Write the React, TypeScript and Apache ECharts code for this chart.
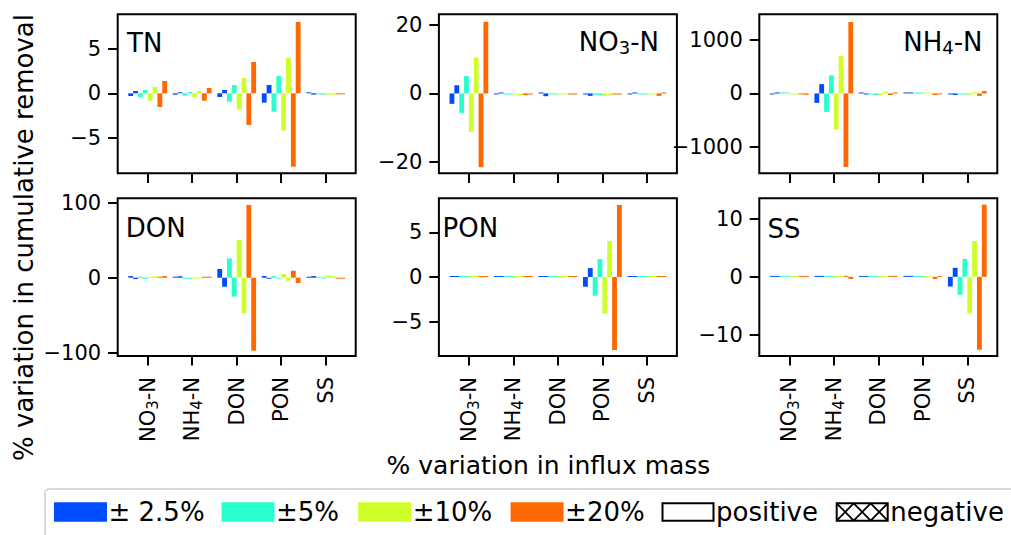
import React, { useEffect, useRef } from "react";
import * as echarts from "echarts";

// ---------- data ----------
const categories = ["NO₃-N", "NH₄-N", "DON", "PON", "SS"];
const levels = ["± 2.5%", "±5%", "±10%", "±20%"];
const levelColors = ["#004cff", "#29ffce", "#ceff29", "#ff6800"];

// [level][influx category]; "first" = left bar of each colour pair, "second" = right bar
const tnFirst = [
  [-0.3, -0.15, -0.41, -1.05, 0.05],
  [-0.41, -0.26, -0.94, -2.07, -0.1],
  [-0.83, -0.41, -1.84, -4.2, -0.15],
  [-1.54, -0.83, -3.57, -8.27, -0.1],
];
const tnSecond = [
  [0.26, 0.05, 0.38, 0.94, -0.15],
  [0.38, 0.15, 0.94, 1.95, -0.15],
  [0.71, 0.26, 1.73, 3.98, -0.15],
  [1.39, 0.6, 3.53, 8.05, -0.1],
];

const no3First = [
  [-3.05, -0.2, 0.1, -0.2, -0.2],
  [-5.7, -0.2, -0.3, -0.4, -0.3],
  [-11.3, -0.3, -0.3, -0.7, -0.3],
  [-21.6, -0.5, -0.3, -0.3, -0.7],
];
const no3Second = [
  [2.4, 0.2, -0.8, -0.7, 0.1],
  [5.1, -0.2, -0.3, -0.5, -0.3],
  [10.5, -0.6, -0.3, -0.6, -0.3],
  [21.0, -0.3, -0.3, -0.3, 0.3],
];

const nh4First = [
  [-5, -176, 5, 0, -5],
  [15, -345, -5, 0, -5],
  [-5, -675, -30, 0, -30],
  [-10, -1375, -30, -30, -45],
];
const nh4Second = [
  [20, 175, -5, 0, -30],
  [15, 337, -30, 0, -5],
  [-5, 700, 30, 0, 25],
  [-25, 1337, 5, -5, 45],
];

const donFirst = [
  [2.2, 0.5, 11.6, 2.2, 0.5],
  [0.9, -1.0, 25.8, 2.2, 0.9],
  [1.3, -0.8, 50.3, 4.9, 3.1],
  [0.3, 1.0, 97.0, 9.3, -0.5],
];
const donSecond = [
  [-1.8, 2.0, -12.0, -1.3, 2.2],
  [-1.8, -1.0, -25.3, -1.0, -0.9],
  [2.2, -0.8, -47.5, -4.0, 2.2],
  [2.2, 1.0, -97.3, -7.1, -0.9],
];

const ponFirst = [
  [0, 0, 0, -1.09, 0],
  [0, 0, 0, -2.1, 0],
  [0, 0, 0, -4.1, 0],
  [0, 0, 0, -8.2, 0],
];
const ponSecond = [
  [0, 0, 0, 1.0, 0],
  [0, 0, 0, 2.0, 0],
  [0, 0, 0, 4.05, 0],
  [0, 0, 0, 8.1, 0],
];

const ssFirst = [
  [0, 0, 0, 0, -1.67],
  [0, 0, 0, 0, -3.1],
  [0, 0, 0, 0, -6.35],
  [0, 0, 0, -0.35, -12.6],
];
const ssSecond = [
  [0, 0, 0, 0, 1.56],
  [0, 0, 0, 0, 3.1],
  [0, 0, 0, 0, 6.2],
  [0, -0.35, 0, 0, 12.5],
];

const tnTicks = [-5, 0, 5];
const no3Ticks = [-20, 0, 20];
const nh4Ticks = [-1000, 0, 1000];
const donTicks = [-100, 0, 100];
const ponTicks = [-5, 0, 5];
const ssTicks = [-10, 0, 10];

// ---------- layout ----------
const FONT = "DejaVu Sans";
const TICK_FS = 21;
const colLeft = [117.7, 438.9, 759.3];
const rowTop = [14.3, 198.3];
const rowH = [159, 157.7];
const frameW = 238;
const tickInset = 30;
const catW = 44.5;
const gridInset = tickInset - catW / 2;

type Panel = {
  title: string;
  first: number[][];
  second: number[][];
  ticks: number[];
  min: number;
  max: number;
  col: number;
  row: number;
  lx: number;
  ly: number;
  align: "left" | "right";
};

const panels: Panel[] = [
  { title: "TN", first: tnFirst, second: tnSecond, ticks: tnTicks, min: -9.02, max: 8.91, col: 0, row: 0, lx: 127, ly: 43, align: "left" },
  { title: "NO₃-N", first: no3First, second: no3Second, ticks: no3Ticks, min: -23.4, max: 23.2, col: 1, row: 0, lx: 659, ly: 41.7, align: "right" },
  { title: "NH₄-N", first: nh4First, second: nh4Second, ticks: nh4Ticks, min: -1494, max: 1481, col: 2, row: 0, lx: 982.5, ly: 41.7, align: "right" },
  { title: "DON", first: donFirst, second: donSecond, ticks: donTicks, min: -104.4, max: 105.9, col: 0, row: 1, lx: 125.8, ly: 228, align: "left" },
  { title: "PON", first: ponFirst, second: ponSecond, ticks: ponTicks, min: -8.87, max: 8.84, col: 1, row: 1, lx: 442.5, ly: 228.3, align: "left" },
  { title: "SS", first: ssFirst, second: ssSecond, ticks: ssTicks, min: -13.7, max: 13.6, col: 2, row: 1, lx: 767.6, ly: 229, align: "left" },
];

const fmt = (v: number) => (v < 0 ? "\u2212" + Math.abs(v) : String(v));

const SUBS: Record<string, string> = { "₃": "3", "₄": "4" };
// turn "NO₃-N" into rich text with a real subscript
function toRich(s: string) {
  let out = "";
  let buf = "";
  for (const ch of s) {
    if (SUBS[ch]) {
      if (buf) out += "{a|" + buf + "}";
      buf = "";
      out += "{b|" + SUBS[ch] + "}";
    } else buf += ch;
  }
  if (buf) out += "{a|" + buf + "}";
  return out;
}

function richStyles(size: number) {
  const sub = Math.round(size * 0.7);
  const lh = size + 4;
  const subLh = lh - 2 * Math.round(size * 0.39);
  return {
    a: { fontSize: size, fontFamily: FONT, color: "#000", fill: "#000", lineHeight: lh },
    b: { fontSize: sub, fontFamily: FONT, color: "#000", fill: "#000", lineHeight: Math.max(subLh, 2), verticalAlign: "bottom" },
  };
}

function buildOption() {
  const grid: any[] = [];
  const xAxis: any[] = [];
  const yAxis: any[] = [];
  const series: any[] = [];
  const graphic: any[] = [];

  panels.forEach((p, i) => {
    const left = colLeft[p.col];
    const top = rowTop[p.row];
    const h = rowH[p.row];
    grid.push({
      left: left + gridInset,
      top,
      width: catW * 5,
      height: h,
      containLabel: false,
      outerBoundsMode: "none",
    });
    xAxis.push({
      type: "category",
      gridIndex: i,
      position: "bottom",
      data: categories,
      axisLine: { show: false, onZero: false },
      axisTick: { show: true, alignWithLabel: true, length: 9.6, lineStyle: { color: "#000", width: 2 } },
      axisLabel: {
        show: p.row === 1,
        interval: 0,
        rotate: 90,
        margin: 21,
        fontSize: TICK_FS,
        fontFamily: FONT,
        color: "#000",
        formatter: (v: string) => toRich(v),
        rich: richStyles(TICK_FS),
      },
      splitLine: { show: false },
    });
    yAxis.push({
      type: "value",
      gridIndex: i,
      min: p.min,
      max: p.max,
      offset: gridInset,
      axisLine: { show: false },
      axisTick: { show: true, length: 9.6, customValues: p.ticks, lineStyle: { color: "#000", width: 2 } },
      axisLabel: {
        customValues: p.ticks,
        margin: 16.5,
        fontSize: TICK_FS,
        fontFamily: FONT,
        color: "#000",
        formatter: (v: number) => fmt(v),
      },
      splitLine: { show: false },
    });
    levels.forEach((lv, l) => {
      [p.first, p.second].forEach((arr, k) => {
        series.push({
          type: "bar",
          name: lv + (k === 0 ? " +" : " −"),
          xAxisIndex: i,
          yAxisIndex: i,
          data: arr[l],
          barWidth: 4.85,
          barGap: "0%",
          barMinHeight: 1,
          itemStyle: { color: levelColors[l] },
          silent: true,
        });
      });
    });
    // frame
    graphic.push({
      type: "rect",
      shape: { x: left, y: top, width: frameW, height: h },
      style: { fill: "none", stroke: "#000", lineWidth: 2 },
      z: 100,
    });
    // panel label
    graphic.push({
      type: "text",
      z: 101,
      style: {
        text: toRich(p.title),
        rich: richStyles(26),
        x: p.lx,
        y: p.ly,
        fill: "#000",
        fontSize: 26,
        fontFamily: FONT,
        textAlign: p.align,
        textVerticalAlign: "middle",
      },
    });
  });

  // axis titles
  graphic.push({
    type: "text",
    x: 23.5,
    y: 237.5,
    rotation: Math.PI / 2,
    style: {
      text: "% variation in cumulative removal",
      x: 0,
      y: 0,
      fill: "#000",
      fontSize: 26,
      fontFamily: FONT,
      textAlign: "center",
      textVerticalAlign: "middle",
    },
  });
  graphic.push({
    type: "text",
    style: {
      text: "% variation in influx mass",
      x: 548.5,
      y: 465.5,
      fill: "#000",
      fontSize: 25,
      fontFamily: FONT,
      textAlign: "center",
      textVerticalAlign: "middle",
    },
  });

  // legend
  graphic.push({
    type: "rect",
    shape: { x: 45, y: 489, width: 1000, height: 70, r: 4 },
    style: { fill: "#fff", stroke: "#cccccc", lineWidth: 1.5 },
    z: 50,
  });
  const swY = 502.3;
  const swH = 19.4;
  const swW = 53;
  const swX = [54, 221.5, 358.2, 510.6, 661.5, 835.7];
  const legTexts = [...levels, "positive", "negative"];
  legTexts.forEach((t, j) => {
    const x = swX[j];
    if (j < 4) {
      graphic.push({
        type: "rect",
        z: 51,
        shape: { x, y: swY, width: swW, height: swH },
        style: { fill: levelColors[j] },
      });
    } else {
      graphic.push({
        type: "rect",
        z: 51,
        shape: { x: x + 1, y: swY + 1, width: swW - 2, height: swH - 2 },
        style: { fill: "#fff", stroke: "#000", lineWidth: 2 },
      });
      if (j === 5) {
        const cw = (swW - 2) / 3;
        for (let c = 0; c < 3; c++) {
          const x0 = x + 1 + c * cw;
          graphic.push({
            type: "line",
            z: 52,
            shape: { x1: x0, y1: swY + swH - 1, x2: x0 + cw, y2: swY + 1 },
            style: { stroke: "#000", lineWidth: 1.8 },
          });
          graphic.push({
            type: "line",
            z: 52,
            shape: { x1: x0, y1: swY + 1, x2: x0 + cw, y2: swY + swH - 1 },
            style: { stroke: "#000", lineWidth: 1.8 },
          });
        }
      }
    }
    graphic.push({
      type: "text",
      z: 52,
      style: {
        text: t,
        x: x + swW + 1.5,
        y: 512,
        fill: "#000",
        fontSize: 26,
        fontFamily: FONT,
        textAlign: "left",
        textVerticalAlign: "middle",
      },
    });
  });

  return {
    animation: false,
    backgroundColor: "#fff",
    textStyle: { fontFamily: FONT },
    grid,
    xAxis,
    yAxis,
    series,
    graphic,
  };
}

export default function App() {
  const ref = useRef<HTMLDivElement>(null);
  useEffect(() => {
    document.body.style.margin = "0";
    if (!ref.current) return;
    const chart = echarts.init(ref.current, undefined, { renderer: "svg" });
    chart.setOption(buildOption() as any);
    return () => chart.dispose();
  }, []);
  return <div ref={ref} style={{ width: 1011, height: 535 }} />;
}
